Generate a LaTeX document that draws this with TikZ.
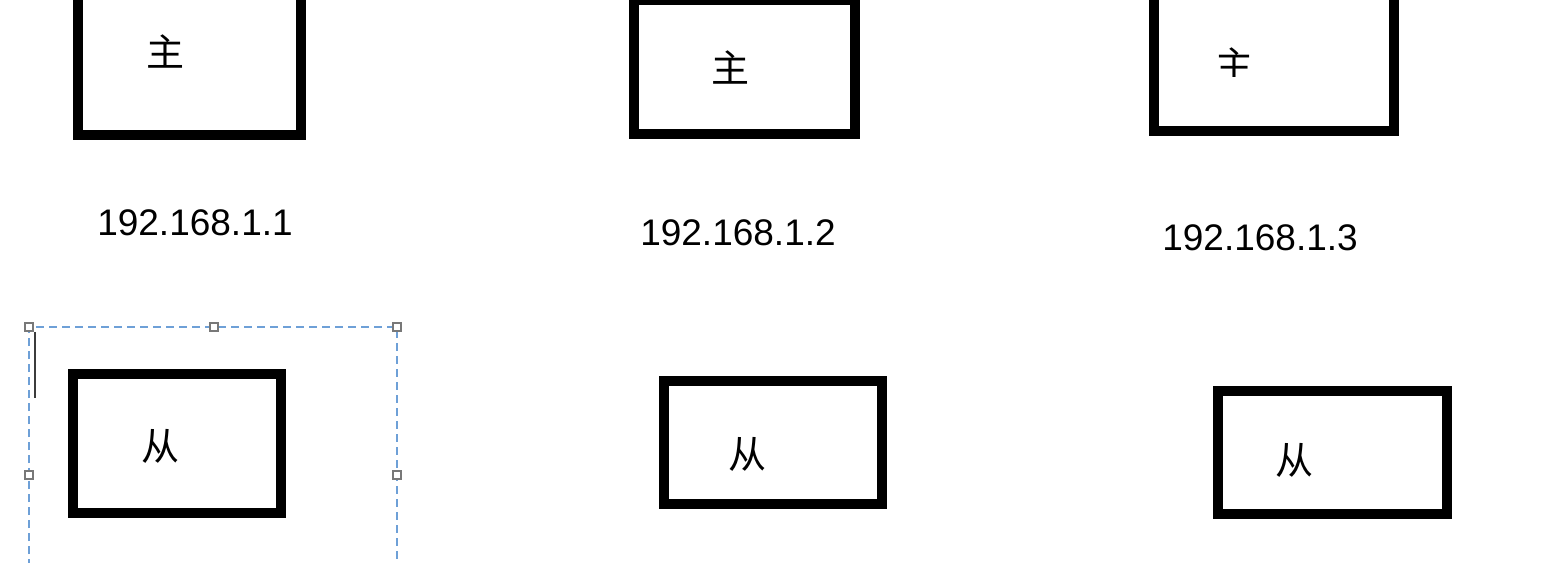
\documentclass[tikz,border=0pt]{standalone}
\usepackage{fontspec}
\setmainfont{Liberation Sans}
\newfontfamily\cjk{Noto Sans CJK SC}
\definecolor{selblue}{RGB}{110,160,215}
\definecolor{handlegray}{RGB}{120,120,120}
\definecolor{cursorgray}{RGB}{60,60,60}
\begin{document}
\begin{tikzpicture}[x=1pt,y=-1pt,
  box/.style={draw=black, line width=10pt, inner sep=0pt, outer sep=0pt, fill=none},
  hanzi/.style={inner sep=0pt, font=\cjk\fontsize{38}{38}\selectfont},
  ip/.style={inner sep=0pt, anchor=base, font=\fontsize{37}{37}\selectfont},
  sel/.style={draw=selblue, line width=1.5pt, dash pattern=on 8pt off 5pt},
  handle/.style={draw=handlegray, fill=white, line width=1.8pt, minimum size=8pt, inner sep=0pt, outer sep=0pt},
]
\useasboundingbox (0,0) rectangle (1554,562);
\clip (0,0) rectangle (1554,562);
\fill[white] (0,0) rectangle (1554,562);
% top row (masters)
\node[box, minimum width=223pt, minimum height=140.5pt] (m1) at (189,64.25) {};
\node[box, minimum width=221pt, minimum height=134.6pt] (m2) at (744.8,67) {};
\node[box, minimum width=240pt, minimum height=137pt] (m3) at (1274,62.5) {};
\node[hanzi] (tm1) at (165,51) {主};
\node[hanzi] (tm2) at (730,67) {主};
\begin{scope}
  \clip (1200,20) rectangle (1300,76.5);
  \node[hanzi] (tm3) at (1234,64) {主};
\end{scope}
% labels
\node[ip] (ip1) at (195,235) {192.168.1.1};
\node[ip] (ip2) at (738,245) {192.168.1.2};
\node[ip] (ip3) at (1260,250) {192.168.1.3};
% bottom row (slaves)
\node[box, minimum width=207.5pt, minimum height=138.5pt] (s1) at (176.75,443.25) {};
\node[box, minimum width=217.4pt, minimum height=123pt] (s2) at (773,442.8) {};
\node[box, minimum width=229pt, minimum height=123pt] (s3) at (1332.2,452.8) {};
\node[hanzi] (ts1) at (160,446) {从};
\node[hanzi] (ts2) at (747,454) {从};
\node[hanzi] (ts3) at (1294,460) {从};
% selection frame
\coordinate (selA) at (29,327);
\coordinate (selB) at (397,580);
\draw[sel] (29,580) -- (selA) -- (397,327) -- (selB);
\node[handle] (h1) at (29,327) {};
\node[handle] (h2) at (214,327) {};
\node[handle] (h3) at (397,327) {};
\node[handle] (h4) at (29,475) {};
\node[handle] (h5) at (397,475) {};
\coordinate (curA) at (35,332);
\coordinate (curB) at (35,398);
\draw[cursorgray, line width=1.5pt] (curA) -- (curB);
\end{tikzpicture}
\end{document}
